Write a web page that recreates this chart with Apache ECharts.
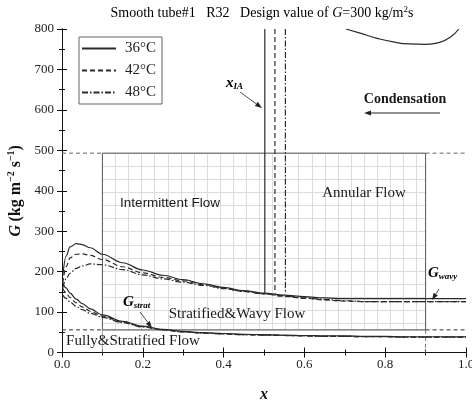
<!DOCTYPE html>
<html><head><meta charset="utf-8">
<script src="https://cdn.jsdelivr.net/npm/echarts@6/dist/echarts.min.js"></script>
<style>html,body{margin:0;padding:0;background:#fff}#c{width:472px;height:401px}</style>
</head><body><div id="c"></div>
<script>
// ---------------- data ----------------
const temps = ['36°C', '42°C', '48°C'];
const xTicks = [0, 0.2, 0.4, 0.6, 0.8, 1.0];
const gTicks = [0, 100, 200, 300, 400, 500, 600, 700, 800];

const xs = [0.002,0.01,0.02,0.035,0.05,0.07,0.1,0.15,0.2,0.25,0.3,0.35,0.4,0.45,0.5,0.55,0.6,0.65,0.7,0.75,0.8,0.85,0.9,0.95,1.0];

const gWavy36 = [190,238,261,269,267,259,243,222,204,191,180,170,161,153,147,142,138,135,133,133,133,133,133,133,133];
const gWavy42 = [172,212,234,243,244,240,230,212,197,186,177,168,159,151,145,139,134,130,127,126,126,126,126,126,126];
const gWavy48 = [160,182,196,208,214,219,217,205,192,182,174,166,158,151,145,140,135,131,128,126,126,126,126,126,126];

const gStrat36 = [172,160,147,132,121,108,93,77,65,57,52,49,47,45,44,43,42,41,41,40,40,39,39,39,39];
const gStrat42 = [158,147,136,123,113,102,90,75,64,56,51,48,46,44,43,42,41,40,40,39,39,38,38,38,38];
const gStrat48 = [142,134,125,114,106,97,87,74,63,56,51,48,46,44,43,42,41,40,40,39,39,38,38,38,38];

const xMist = [0.703,0.74,0.78,0.82,0.86,0.9,0.935,0.962,0.982];
const gMist36 = [800,789,777,768,763,762,767,780,800];

const xIA = [0.502, 0.527, 0.553];
const gIATop = 800;
const gIABottom = [147, 145, 146];

const boxX = [0.1, 0.9];
const boxG = [56, 493];

// ---------------- styles ----------------
const INK = '#2a2a2a';
const dashTypes = ['solid', [5, 3], [6, 2, 1.5, 2]];
const SERIF = 'Liberation Serif';

const zip = (a, b) => a.map((v, i) => [v, b[i]]);

function curve(name, x, y, k, extra) {
  return Object.assign({
    name: name, type: 'line', data: zip(x, y), symbol: 'none',
    smooth: 0.35, smoothMonotone: 'x', xAxisIndex: 0, yAxisIndex: 0,
    lineStyle: { color: INK, width: 1.2, type: dashTypes[k] },
    itemStyle: { color: INK }, z: 5, silent: true
  }, extra || {});
}
function plain(data, type, color, width) {
  return { type: 'line', data: data, symbol: 'none', xAxisIndex: 0, yAxisIndex: 0,
    lineStyle: { color: color, width: width || 1, type: type }, z: 3, silent: true };
}

const series = [];
const wavy = [gWavy36, gWavy42, gWavy48];
const strat = [gStrat36, gStrat42, gStrat48];
temps.forEach((t, k) => {
  series.push(curve(t, xs, wavy[k], k));
  series.push(curve(t, xs, strat[k], k));
  series.push(curve(t, [xIA[k], xIA[k]], [gIATop, gIABottom[k]], k, { smooth: false }));
});
series.push(curve(temps[0], xMist, gMist36, 0, { smooth: 0.5, smoothMonotone: null }));

// flow-map box and its extensions
series.push(plain([[boxX[0], boxG[0]], [boxX[1], boxG[0]], [boxX[1], boxG[1]], [boxX[0], boxG[1]], [boxX[0], boxG[0]]], 'solid', '#555', 1));
series.push(plain([[0, boxG[1]], [boxX[0], boxG[1]]], [4, 3], '#666', 1));
series.push(plain([[boxX[1], boxG[1]], [1, boxG[1]]], [4, 3], '#666', 1));
series.push(plain([[0, boxG[0]], [boxX[0], boxG[0]]], [4, 3], '#333', 1));
series.push(plain([[boxX[1], boxG[0]], [1, boxG[0]]], [4, 3], '#333', 1));
series.push(plain([[boxX[1], boxG[0]], [boxX[1], 0]], [4, 3], '#777', 1));
series.push(plain([[boxX[0], boxG[0]], [boxX[0], 0]], 'solid', '#888', 0.8));

const axisCommon = {
  axisLine: { show: true, lineStyle: { color: '#111', width: 1 } },
  axisTick: { show: true, inside: true, length: 5, lineStyle: { color: '#111' } },
  minorTick: { show: true, splitNumber: 2, length: 3, lineStyle: { color: '#111' } },
  splitLine: { show: false }
};

const option = {
  animation: false,
  backgroundColor: '#fff',
  grid: [
    { left: 62, right: 6, top: 29, bottom: 48.5, show: false, containLabel: false, outerBoundsMode: 'none' },
    { left: 103, top: 154, width: 323, height: 176, show: false, containLabel: false, outerBoundsMode: 'none' }
  ],
  xAxis: [
    Object.assign({ type: 'value', gridIndex: 0, min: 0, max: 1, interval: 0.2, position: 'bottom',
      axisLabel: { color: '#222', fontFamily: SERIF, fontSize: 13, margin: 6,
        formatter: v => xTicks.some(t => Math.abs(t - v) < 1e-9) ? v.toFixed(1) : '' },
      name: 'x', nameLocation: 'middle', nameGap: 34,
      nameTextStyle: { fontFamily: SERIF, fontSize: 16, fontWeight: 'bold', fontStyle: 'italic', color: '#111' }
    }, axisCommon),
    Object.assign({ type: 'value', gridIndex: 0, min: 0, max: 1, interval: 0.2, position: 'top',
      axisLabel: { show: false } }, axisCommon),
    { type: 'value', gridIndex: 1, min: 0, max: 24.7, interval: 1, show: true,
      axisLine: { show: false }, axisTick: { show: false }, axisLabel: { show: false },
      splitLine: { show: true, lineStyle: { color: '#dcdcdc', width: 1 } } }
  ],
  yAxis: [
    Object.assign({ type: 'value', gridIndex: 0, min: 0, max: 800, interval: 100, position: 'left',
      axisLabel: { color: '#222', fontFamily: SERIF, fontSize: 13, margin: 8,
        formatter: v => gTicks.indexOf(v) >= 0 ? String(v) : '' },
      name: '{g|G} {u|(kg m}{s|−2}{u| s}{s|−1}{u|)}', nameLocation: 'middle', nameGap: 35, nameRotate: 90,
      nameTextStyle: { rich: {
        g: { fontFamily: SERIF, fontSize: 16, fontWeight: 'bold', fontStyle: 'italic', color: '#111' },
        u: { fontFamily: SERIF, fontSize: 16, fontWeight: 'bold', color: '#111' },
        s: { fontFamily: SERIF, fontSize: 10, fontWeight: 'bold', color: '#111', padding: [0, 0, 8, 0] }
      } }
    }, axisCommon),
    Object.assign({ type: 'value', gridIndex: 0, min: 0, max: 800, interval: 100, position: 'right',
      axisLabel: { show: false } }, axisCommon),
    { type: 'value', gridIndex: 1, min: 0, max: 13.5, interval: 1, inverse: true, show: true,
      axisLine: { show: false }, axisTick: { show: false }, axisLabel: { show: false },
      splitLine: { show: true, lineStyle: { color: '#dcdcdc', width: 1 } } }
  ],
  legend: {
    data: temps, orient: 'vertical', left: 79, top: 37,
    itemWidth: 34, itemHeight: 14, itemGap: 7,
    padding: [4, 6, 4, 2], borderColor: '#666', borderWidth: 1,
    backgroundColor: '#fff',
    itemStyle: { opacity: 0, borderWidth: 0 },
    textStyle: { fontFamily: SERIF, fontSize: 15, color: '#222', padding: [0, 0, 0, 4] },
    selectedMode: false
  },
  series: series
};

function arrow(x1, y1, x2, y2, w) {
  const a = Math.atan2(y2 - y1, x2 - x1), L = 7, H = 2.5;
  const bx = x2 - L * Math.cos(a), by = y2 - L * Math.sin(a);
  return [
    { type: 'line', shape: { x1: x1, y1: y1, x2: bx, y2: by }, style: { stroke: '#222', lineWidth: w || 0.8 }, z: 10 },
    { type: 'polygon', shape: { points: [[x2, y2], [bx - H * Math.sin(a), by + H * Math.cos(a)], [bx + H * Math.sin(a), by - H * Math.cos(a)]] },
      style: { fill: '#222' }, z: 10 }
  ];
}
function txt(x, y, text, font, extra) {
  return Object.assign({ type: 'text', x: x, y: y, z: 10,
    style: { text: text, font: font, fill: '#1a1a1a', align: 'center', verticalAlign: 'middle', textAlign: 'center', textVerticalAlign: 'middle' } }, extra || {});
}
const subRich = {
  a: { fontFamily: SERIF, fontSize: 15, fontWeight: 'bold', fontStyle: 'italic', color: '#111' },
  b: { fontFamily: SERIF, fontSize: 9, fontWeight: 'bold', fontStyle: 'italic', color: '#111', padding: [8, 0, 0, 0] }
};

const graphic = [
  { type: 'text', x: 262, y: 13, z: 10, style: {
      text: '{n|Smooth tube#1   R32   Design value of }{i|G}{n|=300 kg/m}{s|2}{n|s}',
      align: 'center', verticalAlign: 'middle', textAlign: 'center', textVerticalAlign: 'middle',
      rich: {
        n: { fontFamily: SERIF, fontSize: 14, color: '#222' },
        i: { fontFamily: SERIF, fontSize: 14, fontStyle: 'italic', color: '#222' },
        s: { fontFamily: SERIF, fontSize: 9, color: '#222', padding: [0, 0, 7, 0] }
      } } },
  txt(170, 203, 'Intermittent Flow', '13.5px "Liberation Sans"'),
  txt(364, 193, 'Annular Flow', '15px "Liberation Serif"'),
  txt(237, 314, 'Stratified&Wavy Flow', '15px "Liberation Serif"'),
  txt(133, 341, 'Fully&Stratified Flow', '15px "Liberation Serif"'),
  txt(405, 99, 'Condensation', 'bold 14px "Liberation Serif"'),
  { type: 'text', x: 226, y: 83, z: 10, style: { text: '{a|x}{b|IA}', align: 'left', verticalAlign: 'middle', rich: subRich } },
  { type: 'text', x: 123, y: 302, z: 10, style: { text: '{a|G}{b|strat}', align: 'left', verticalAlign: 'middle', rich: subRich } },
  { type: 'text', x: 428, y: 273, z: 10, style: { text: '{a|G}{b|wavy}', align: 'left', verticalAlign: 'middle', rich: subRich } }
].concat(
  arrow(440, 113, 364, 113, 1),
  arrow(240, 92, 262, 108),
  arrow(140, 312, 152, 328),
  arrow(439, 289, 432, 300)
);
option.graphic = graphic;

const chart = echarts.init(document.getElementById('c'), null, { renderer: 'canvas' });
chart.setOption(option);
// place the flow-map gridlines exactly on the box, via the main axes' scales
const p1 = chart.convertToPixel({ gridIndex: 0 }, [boxX[0], boxG[1]]);
const p2 = chart.convertToPixel({ gridIndex: 0 }, [boxX[1], boxG[0]]);
chart.setOption({ grid: [{}, { left: p1[0], top: p1[1], width: p2[0] - p1[0], height: p2[1] - p1[1] }] });
</script></body></html>
